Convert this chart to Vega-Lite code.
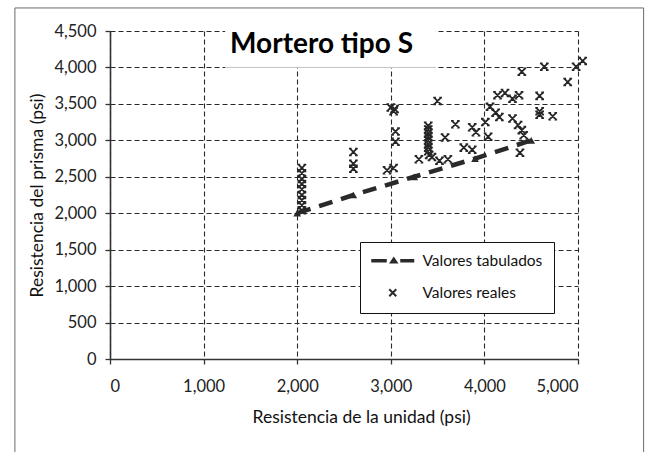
{
  "$schema": "https://vega.github.io/schema/vega-lite/v6.json",
  "width": 468,
  "height": 328,
  "autosize": "none",
  "padding": {"left": 110, "top": 31, "right": 67, "bottom": 93},
  "background": "white",
  "config": {
    "view": {"stroke": null},
    "font": "Lato",
    "axis": {
      "labelFont": "Lato",
      "labelFontSize": 16.5,
      "labelColor": "#222222",
      "labelOverlap": false,
      "titleFont": "Lato",
      "titleFontSize": 17.5,
      "titleFontWeight": "normal",
      "titleColor": "#111111",
      "domainColor": "#333333",
      "domainWidth": 1.6,
      "tickColor": "#333333",
      "tickSize": 5,
      "tickWidth": 1.3,
      "grid": true,
      "gridColor": "#2a2a2a",
      "gridDash": [5, 3],
      "gridWidth": 1.1,
      "gridOpacity": 1
    },
    "axisX": {"tickCount": 5, "labelPadding": 14},
    "axisY": {"tickCount": 10, "labelPadding": 9}
  },
  "data": {
    "values": [
      {"serie": "Valores tabulados", "unidad": 2000, "prisma": 2000},
      {"serie": "Valores tabulados", "unidad": 2600, "prisma": 2250},
      {"serie": "Valores tabulados", "unidad": 3250, "prisma": 2500},
      {"serie": "Valores tabulados", "unidad": 3900, "prisma": 2750},
      {"serie": "Valores tabulados", "unidad": 4500, "prisma": 3000},
      {"serie": "Valores reales", "unidad": 2050, "prisma": 2620},
      {"serie": "Valores reales", "unidad": 2050, "prisma": 2550},
      {"serie": "Valores reales", "unidad": 2050, "prisma": 2470},
      {"serie": "Valores reales", "unidad": 2050, "prisma": 2400},
      {"serie": "Valores reales", "unidad": 2050, "prisma": 2330},
      {"serie": "Valores reales", "unidad": 2050, "prisma": 2250},
      {"serie": "Valores reales", "unidad": 2050, "prisma": 2180},
      {"serie": "Valores reales", "unidad": 2050, "prisma": 2110},
      {"serie": "Valores reales", "unidad": 2050, "prisma": 2040},
      {"serie": "Valores reales", "unidad": 2600, "prisma": 2840},
      {"serie": "Valores reales", "unidad": 2600, "prisma": 2680},
      {"serie": "Valores reales", "unidad": 2600, "prisma": 2610},
      {"serie": "Valores reales", "unidad": 2960, "prisma": 2590},
      {"serie": "Valores reales", "unidad": 3030, "prisma": 2620},
      {"serie": "Valores reales", "unidad": 3050, "prisma": 2980},
      {"serie": "Valores reales", "unidad": 3050, "prisma": 3120},
      {"serie": "Valores reales", "unidad": 3000, "prisma": 3450},
      {"serie": "Valores reales", "unidad": 3030, "prisma": 3400},
      {"serie": "Valores reales", "unidad": 3040, "prisma": 3430},
      {"serie": "Valores reales", "unidad": 3300, "prisma": 2740},
      {"serie": "Valores reales", "unidad": 3440, "prisma": 2770},
      {"serie": "Valores reales", "unidad": 3520, "prisma": 2720},
      {"serie": "Valores reales", "unidad": 3610, "prisma": 2740},
      {"serie": "Valores reales", "unidad": 3500, "prisma": 3540},
      {"serie": "Valores reales", "unidad": 3580, "prisma": 3040},
      {"serie": "Valores reales", "unidad": 3690, "prisma": 3220},
      {"serie": "Valores reales", "unidad": 3400, "prisma": 3200},
      {"serie": "Valores reales", "unidad": 3400, "prisma": 3150},
      {"serie": "Valores reales", "unidad": 3400, "prisma": 3100},
      {"serie": "Valores reales", "unidad": 3400, "prisma": 3050},
      {"serie": "Valores reales", "unidad": 3400, "prisma": 3000},
      {"serie": "Valores reales", "unidad": 3400, "prisma": 2950},
      {"serie": "Valores reales", "unidad": 3400, "prisma": 2900},
      {"serie": "Valores reales", "unidad": 3400, "prisma": 2850},
      {"serie": "Valores reales", "unidad": 3410, "prisma": 2800},
      {"serie": "Valores reales", "unidad": 3780, "prisma": 2900},
      {"serie": "Valores reales", "unidad": 3870, "prisma": 2870},
      {"serie": "Valores reales", "unidad": 3870, "prisma": 3180},
      {"serie": "Valores reales", "unidad": 3910, "prisma": 3110},
      {"serie": "Valores reales", "unidad": 4010, "prisma": 3250},
      {"serie": "Valores reales", "unidad": 4040, "prisma": 3050},
      {"serie": "Valores reales", "unidad": 4060, "prisma": 3460},
      {"serie": "Valores reales", "unidad": 4140, "prisma": 3620},
      {"serie": "Valores reales", "unidad": 4220, "prisma": 3650},
      {"serie": "Valores reales", "unidad": 4300, "prisma": 3570},
      {"serie": "Valores reales", "unidad": 4370, "prisma": 3620},
      {"serie": "Valores reales", "unidad": 4400, "prisma": 3940},
      {"serie": "Valores reales", "unidad": 4590, "prisma": 3610},
      {"serie": "Valores reales", "unidad": 4640, "prisma": 4010},
      {"serie": "Valores reales", "unidad": 4890, "prisma": 3800},
      {"serie": "Valores reales", "unidad": 4980, "prisma": 4010},
      {"serie": "Valores reales", "unidad": 5050, "prisma": 4090},
      {"serie": "Valores reales", "unidad": 4120, "prisma": 3380},
      {"serie": "Valores reales", "unidad": 4160, "prisma": 3320},
      {"serie": "Valores reales", "unidad": 4300, "prisma": 3300},
      {"serie": "Valores reales", "unidad": 4360, "prisma": 3210},
      {"serie": "Valores reales", "unidad": 4400, "prisma": 3140},
      {"serie": "Valores reales", "unidad": 4420, "prisma": 3070},
      {"serie": "Valores reales", "unidad": 4380, "prisma": 2830},
      {"serie": "Valores reales", "unidad": 4590, "prisma": 3400},
      {"serie": "Valores reales", "unidad": 4590, "prisma": 3350},
      {"serie": "Valores reales", "unidad": 4730, "prisma": 3330}
    ]
  },
  "layer": [
    {
      "transform": [{"filter": "datum.serie === 'Valores tabulados'"}],
      "mark": {"type": "line", "strokeDash": [14, 9], "strokeWidth": 4.5, "color": "#2a2a2a"},
      "encoding": {
        "x": {
          "field": "unidad", "type": "quantitative",
          "scale": {"domain": [0, 5000], "nice": false},
          "axis": {
            "format": ",d", "title": "Resistencia de la unidad (psi)",
            "titleBaseline": "middle", "titleX": 142, "titleY": 58, "titleAnchor": "start"
          }
        },
        "y": {
          "field": "prisma", "type": "quantitative",
          "scale": {"domain": [0, 4500], "nice": false},
          "axis": {
            "format": ",d", "title": "Resistencia del prisma (psi)",
            "titleBaseline": "middle", "titleX": -73, "titleY": 164, "titleAnchor": "middle"
          }
        }
      }
    },
    {
      "transform": [{"filter": "datum.serie === 'Valores tabulados'"}],
      "mark": {"type": "point", "shape": "triangle-up", "size": 60, "filled": true, "opacity": 1, "color": "#2a2a2a"},
      "encoding": {
        "x": {"field": "unidad", "type": "quantitative"},
        "y": {"field": "prisma", "type": "quantitative"}
      }
    },
    {
      "transform": [{"filter": "datum.serie === 'Valores reales'"}],
      "mark": {
        "type": "point",
        "shape": "M-1,-1L1,1M-1,1L1,-1M-1.3,-1H-0.5M0.5,-1H1.3M-1.3,1H-0.5M0.5,1H1.3",
        "size": 45, "strokeWidth": 1.8, "opacity": 1, "color": "#262626"
      },
      "encoding": {
        "x": {"field": "unidad", "type": "quantitative"},
        "y": {"field": "prisma", "type": "quantitative"}
      }
    },
    {
      "transform": [{"filter": "false"}],
      "mark": {"type": "point", "filled": true, "size": 100, "fill": "#2a2a2a", "stroke": "#2a2a2a", "strokeWidth": 1.4, "opacity": 1},
      "encoding": {
        "x": {"field": "unidad", "type": "quantitative"},
        "y": {"field": "prisma", "type": "quantitative"},
        "shape": {
          "field": "serie", "type": "nominal",
          "scale": {
            "domain": ["Valores tabulados", "Valores reales"],
            "range": [
              "M-4.3,-0.35H-1.2V0.35H-4.3ZM-0.75,0.55L0.2,-0.85L1.15,0.55ZM1.5,-0.35H4.3V0.35H1.5Z",
              "M-0.84,-0.56L0.56,0.84L0.84,0.56L-0.56,-0.84ZM-0.56,0.84L0.84,-0.56L0.56,-0.84L-0.84,0.56Z"
            ]
          },
          "legend": {
            "title": null,
            "orient": "none",
            "legendX": 250,
            "legendY": 211,
            "direction": "vertical",
            "padding": 11,
            "rowPadding": 15,
            "symbolOffset": 14,
            "labelOffset": 22,
            "labelFont": "Lato",
            "labelFontSize": 15.5,
            "labelColor": "#111111",
            "strokeColor": "#111111",
            "fillColor": "white",
            "symbolStrokeColor": "#2a2a2a",
            "symbolFillColor": "#2a2a2a",
            "symbolStrokeWidth": 1.4,
            "symbolOpacity": 1
          }
        }
      }
    },
    {
      "data": {"values": [{}]},
      "mark": {"type": "rect", "fill": "white"},
      "encoding": {
        "x": {"datum": 1230, "type": "quantitative"},
        "x2": {"datum": 3480},
        "y": {"datum": 4000, "type": "quantitative"},
        "y2": {"datum": 4620}
      }
    },
    {
      "data": {"values": [{}]},
      "mark": {"type": "rule", "color": "#c8c8c8", "strokeWidth": 1},
      "encoding": {
        "x": {"datum": 1230, "type": "quantitative"},
        "x2": {"datum": 3480},
        "y": {"datum": 4000, "type": "quantitative"}
      }
    },
    {
      "data": {"values": [{"titulo": "Mortero tipo S"}]},
      "mark": {"type": "text", "font": "Lato", "fontWeight": "bold", "fontSize": 28, "align": "left", "baseline": "alphabetic", "color": "#000000"},
      "encoding": {
        "x": {"datum": 1283, "type": "quantitative"},
        "y": {"datum": 4198, "type": "quantitative"},
        "text": {"field": "titulo"}
      }
    },
    {
      "data": {"values": [{}]},
      "mark": {"type": "rect", "filled": false, "stroke": "#6a6a6a", "strokeWidth": 1},
      "encoding": {
        "x": {"datum": -1016, "type": "quantitative"},
        "x2": {"datum": 5701},
        "y": {"datum": 4816, "type": "quantitative"},
        "y2": {"datum": -1500}
      }
    }
  ]
}
